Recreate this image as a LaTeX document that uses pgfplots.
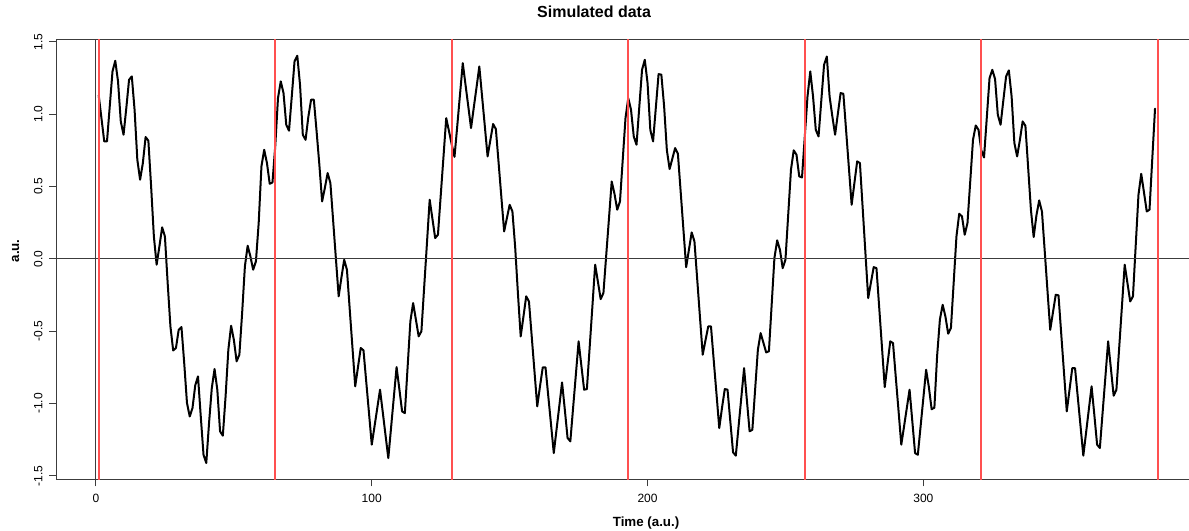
\documentclass[border=0pt]{standalone}
\usepackage{fontspec}
\setmainfont{Liberation Sans}
\usepackage{pgfplots}
\usepackage{pgfplotstable}
\pgfplotsset{compat=1.18}
\pgfplotstableread{
t y
1 1.129
2 0.97
3 0.811
4 0.811
5 1.053
6 1.295
7 1.368
8 1.226
9 0.949
10 0.857
11 1.041
12 1.237
13 1.26
14 1.03
15 0.684
16 0.546
17 0.661
18 0.841
19 0.816
20 0.5
21 0.154
22 -0.041
23 0.085
24 0.217
25 0.154
26 -0.168
27 -0.468
28 -0.634
29 -0.617
30 -0.491
31 -0.472
32 -0.721
33 -0.997
34 -1.09
35 -1.032
36 -0.875
37 -0.813
38 -1.09
39 -1.355
40 -1.412
41 -1.136
42 -0.894
43 -0.762
44 -0.905
45 -1.193
46 -1.223
47 -0.951
48 -0.629
49 -0.463
50 -0.560
51 -0.709
52 -0.663
53 -0.375
54 -0.053
55 0.090
56 0.016
57 -0.076
58 -0.018
59 0.246
60 0.638
61 0.753
62 0.661
63 0.518
64 0.527
65 0.776
66 1.110
67 1.226
68 1.145
69 0.926
70 0.885
71 1.122
72 1.364
73 1.403
74 1.2
75 0.857
76 0.822
77 0.98
78 1.099
79 1.099
80 0.88
81 0.65
82 0.396
83 0.49
84 0.592
85 0.523
86 0.263
87 0.0
88 -0.26
89 -0.13
90 -0.007
91 -0.076
92 -0.346
93 -0.613
94 -0.882
95 -0.75
96 -0.617
97 -0.633
98 -0.85
99 -1.067
100 -1.285
101 -1.159
102 -1.032
103 -0.905
104 -1.062
105 -1.221
106 -1.378
107 -1.168
108 -0.958
109 -0.749
110 -0.90
111 -1.055
112 -1.067
113 -0.749
114 -0.433
115 -0.306
116 -0.42
117 -0.536
118 -0.502
119 -0.198
120 0.104
121 0.408
122 0.276
123 0.143
124 0.166
125 0.435
126 0.703
127 0.972
128 0.882
129 0.79
130 0.704
131 0.917
132 1.136
133 1.352
134 1.202
135 1.053
136 0.903
137 1.046
138 1.186
139 1.329
140 1.122
141 0.915
142 0.707
143 0.82
144 0.931
145 0.896
146 0.661
147 0.424
148 0.189
149 0.281
150 0.373
151 0.327
152 0.08
153 -0.24
154 -0.537
155 -0.40
156 -0.260
157 -0.295
158 -0.537
159 -0.779
160 -1.020
161 -0.882
162 -0.751
163 -0.751
164 -0.949
165 -1.145
166 -1.343
167 -1.18
168 -1.018
169 -0.855
170 -1.043
171 -1.239
172 -1.262
173 -1.032
174 -0.802
175 -0.571
176 -0.739
177 -0.905
178 -0.901
179 -0.615
180 -0.329
181 -0.041
182 -0.159
183 -0.279
184 -0.237
185 0.021
186 0.276
187 0.534
188 0.45
189 0.339
190 0.396
191 0.684
192 0.972
193 1.110
194 1.030
195 0.845
196 0.788
197 1.048
198 1.306
199 1.375
200 1.214
201 0.891
202 0.811
203 1.044
204 1.276
205 1.272
206 1.055
207 0.75
208 0.620
209 0.693
210 0.765
211 0.726
212 0.465
213 0.203
214 -0.058
215 0.062
216 0.182
217 0.120
218 -0.141
219 -0.403
220 -0.663
221 -0.564
222 -0.468
223 -0.468
224 -0.703
225 -0.935
226 -1.17
227 -1.03
228 -0.901
229 -0.905
230 -1.122
231 -1.338
232 -1.361
233 -1.159
234 -0.958
235 -0.756
236 -0.974
237 -1.193
238 -1.182
239 -0.905
240 -0.629
241 -0.514
242 -0.58
243 -0.647
244 -0.640
245 -0.318
246 0.005
247 0.127
248 0.062
249 -0.065
250 -0.007
251 0.304
252 0.615
253 0.749
254 0.719
255 0.569
256 0.562
257 0.841
258 1.122
259 1.295
260 1.122
261 0.891
262 0.845
263 1.094
264 1.341
265 1.398
266 1.122
267 0.984
268 0.857
269 1.002
270 1.145
271 1.140
272 0.885
273 0.629
274 0.373
275 0.523
276 0.673
277 0.661
278 0.350
279 0.039
280 -0.272
281 -0.164
282 -0.058
283 -0.065
284 -0.339
285 -0.613
286 -0.887
287 -0.728
288 -0.571
289 -0.583
290 -0.818
291 -1.05
292 -1.285
293 -1.159
294 -1.032
295 -0.905
296 -1.124
297 -1.343
298 -1.355
299 -1.159
300 -0.963
301 -0.767
302 -0.887
303 -1.04
304 -1.03
305 -0.668
306 -0.42
307 -0.318
308 -0.399
309 -0.518
310 -0.479
311 -0.164
312 0.154
313 0.311
314 0.293
315 0.166
316 0.247
317 0.534
318 0.822
319 0.921
320 0.891
321 0.75
322 0.700
323 0.974
324 1.249
325 1.306
326 1.242
327 0.995
328 0.926
329 1.094
330 1.26
331 1.302
332 1.122
333 0.8
334 0.707
335 0.82
336 0.949
337 0.919
338 0.629
339 0.339
340 0.150
341 0.30
342 0.403
343 0.327
344 0.055
345 -0.219
346 -0.491
347 -0.37
348 -0.249
349 -0.253
350 -0.521
351 -0.788
352 -1.055
353 -0.905
354 -0.756
355 -0.756
356 -0.958
357 -1.159
358 -1.361
359 -1.202
360 -1.041
361 -0.882
362 -1.08
363 -1.285
364 -1.308
365 -1.062
366 -0.818
367 -0.571
368 -0.758
369 -0.947
370 -0.905
371 -0.617
372 -0.329
373 -0.041
374 -0.168
375 -0.295
376 -0.260
377 0.092
378 0.442
379 0.587
380 0.458
381 0.327
382 0.339
383 0.689
384 1.037
}\simdata
\definecolor{rline}{RGB}{255,80,80}
\definecolor{frame}{RGB}{60,60,60}
\begin{document}
\begin{tikzpicture}[x=1pt,y=1pt]
\begin{axis}[
  at={(0pt,0pt)}, anchor=south west,
  scale only axis, width=855.6pt, height=330pt,
  xmin=-14.32, xmax=399.32, ymin=-1.525, ymax=1.516,
  axis line style={line width=0.7pt, frame},
  xtick={0,100,200,300}, xticklabels={0,100,200,300},
  ytick={-1.5,-1,-0.5,0,0.5,1,1.5},
  yticklabels={-1.5,-1.0,-0.5,0.0,0.5,1.0,1.5},
  xtick pos=bottom, ytick pos=left,
  tick align=outside, major tick length=5.25pt,
  tick style={line width=0.7pt, frame},
  xticklabel style={font=\fontsize{9}{11}\selectfont, inner sep=0pt, anchor=north},
  yticklabel style={font=\fontsize{9}{11}\selectfont, inner sep=0pt, rotate=90, anchor=south},
  xticklabel shift=5.6pt, yticklabel shift=5pt,
  clip=true,
]
\addplot[black, line width=1.5pt, line join=round, line cap=round] table[x=t, y=y] {\simdata};
\addplot[draw=frame, line width=0.7pt] coordinates {(-20,0) (410,0)};
\addplot[draw=frame, line width=0.7pt] coordinates {(0,-2) (0,2)};
\addplot[draw=rline, line width=1.2pt, unbounded coords=jump] coordinates {
 (1,-2) (1,2) (1,nan)
 (65,-2) (65,2) (65,nan)
 (129,-2) (129,2) (129,nan)
 (193,-2) (193,2) (193,nan)
 (257,-2) (257,2) (257,nan)
 (321,-2) (321,2) (321,nan)
 (385,-2) (385,2)};
\end{axis}
\node[font=\bfseries\fontsize{12}{14}\selectfont, anchor=base] at (403.2,346.1) {Simulated data};
\node[font=\bfseries\fontsize{10}{12}\selectfont, anchor=base] at (442.2,-35.6) {Time (a.u.)};
\node[font=\bfseries\fontsize{10}{12}\selectfont, rotate=90, anchor=base] at (-28.1,171.4) {a.u.};
\pgfresetboundingbox
\path (-42.35,-38.6) rectangle (849.4,359.55);
\end{tikzpicture}
\end{document}
